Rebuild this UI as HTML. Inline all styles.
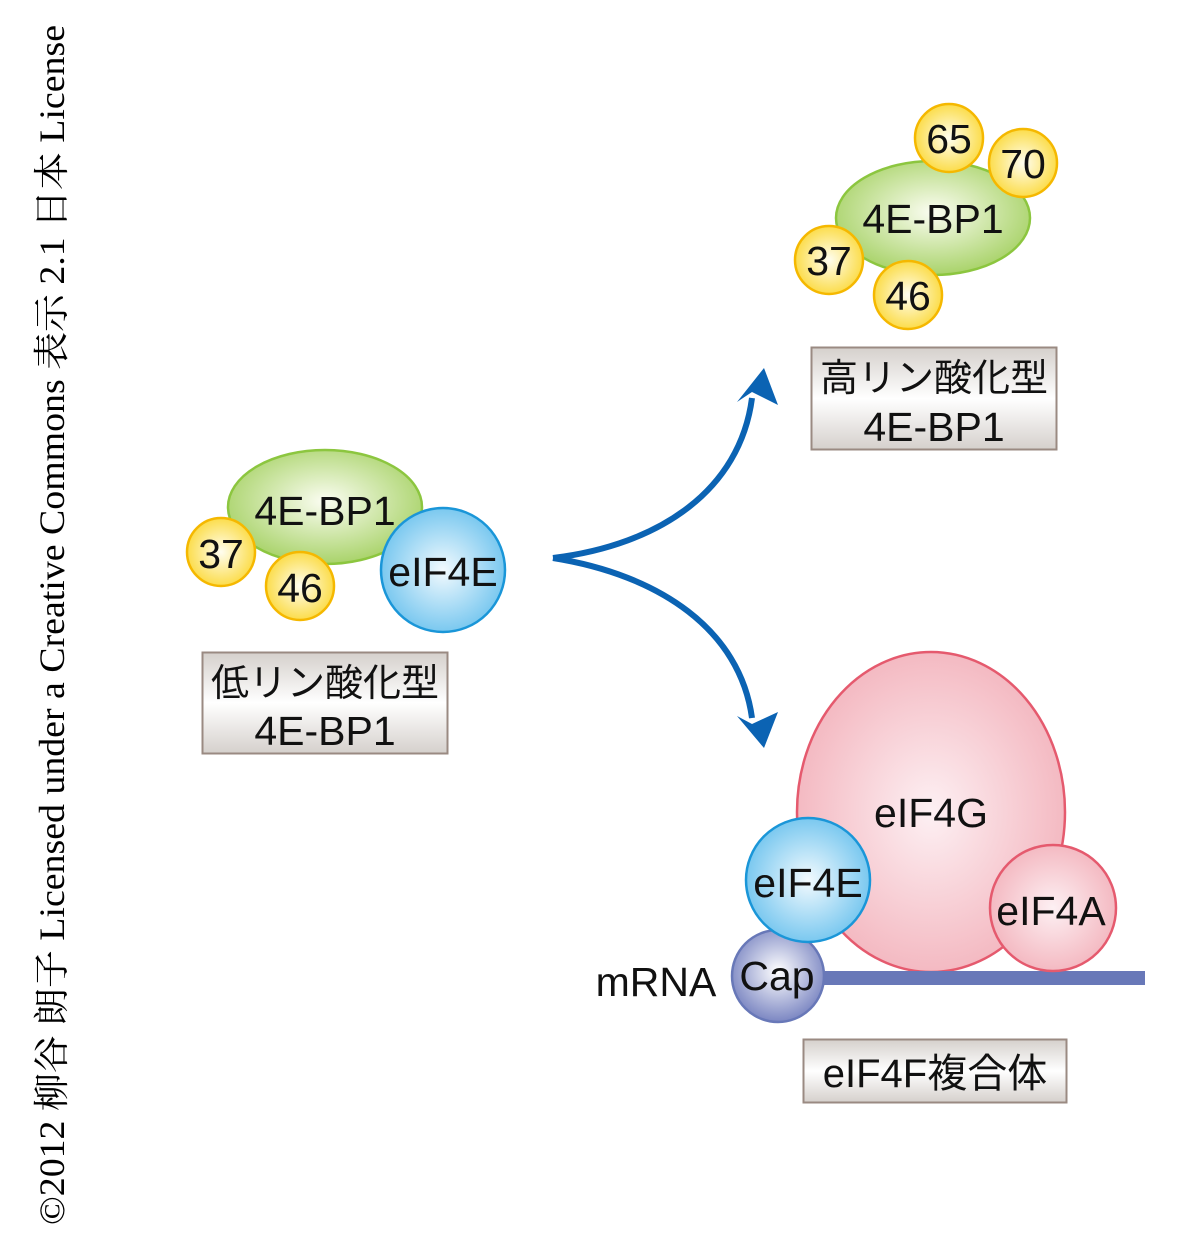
<!DOCTYPE html>
<html><head><meta charset="utf-8"><style>body{margin:0;background:#fff}svg{display:block}</style></head><body>
<svg width="1200" height="1257" viewBox="0 0 1200 1257" xmlns="http://www.w3.org/2000/svg" font-family="'Liberation Sans','Noto Sans CJK JP',sans-serif">
<defs>
<radialGradient id="g" cx="50%" cy="45%" r="55%"><stop offset="0" stop-color="#fbfdf2"/><stop offset="1" stop-color="#a9d36a"/></radialGradient>
<radialGradient id="y" cx="50%" cy="50%" r="55%"><stop offset="0" stop-color="#fffef0"/><stop offset="1" stop-color="#fbd93a"/></radialGradient>
<radialGradient id="b" cx="50%" cy="50%" r="55%"><stop offset="0" stop-color="#f2fafe"/><stop offset="1" stop-color="#6ec3ee"/></radialGradient>
<radialGradient id="p" cx="50%" cy="50%" r="55%"><stop offset="0" stop-color="#fdf0f3"/><stop offset="1" stop-color="#f3b4bd"/></radialGradient>
<radialGradient id="c" cx="50%" cy="45%" r="55%"><stop offset="0" stop-color="#ffffff"/><stop offset="1" stop-color="#7b86c2"/></radialGradient>
<linearGradient id="bx" x1="0" y1="0" x2="0" y2="1"><stop offset="0" stop-color="#d5d0cc"/><stop offset="0.5" stop-color="#ffffff"/><stop offset="1" stop-color="#d5d0cc"/></linearGradient>
</defs>
<text transform="translate(64,1225) rotate(-90)" font-family="'Liberation Serif','Noto Serif CJK SC',serif" font-size="36" textLength="1200" lengthAdjust="spacingAndGlyphs" fill="#000">©2012 柳谷 朗子 Licensed under a Creative Commons 表示 2.1 日本 License</text>

<!-- left -->
<ellipse cx="325" cy="507" rx="97" ry="57" fill="url(#g)" stroke="#8cc63f" stroke-width="2.5"/>
<circle cx="443" cy="570" r="62" fill="url(#b)" stroke="#1a96d8" stroke-width="2.5"/>
<circle cx="221" cy="552" r="34" fill="url(#y)" stroke="#f5b800" stroke-width="2.5"/>
<circle cx="300" cy="586" r="34" fill="url(#y)" stroke="#f5b800" stroke-width="2.5"/>
<g font-size="41" text-anchor="middle" fill="#111">
<text x="325" y="525">4E-BP1</text>
<text x="443" y="586">eIF4E</text>
<text x="221" y="568">37</text>
<text x="300" y="602">46</text>
</g>
<rect x="202.5" y="652.5" width="245" height="101" fill="url(#bx)" stroke="#9a8a82" stroke-width="2"/>
<g text-anchor="middle" fill="#111"><text x="325" y="696" font-size="38">低リン酸化型</text><text x="325" y="745" font-size="41">4E-BP1</text></g>

<!-- top right -->
<ellipse cx="933" cy="218" rx="97" ry="57" fill="url(#g)" stroke="#8cc63f" stroke-width="2.5"/>
<circle cx="949" cy="138" r="34" fill="url(#y)" stroke="#f5b800" stroke-width="2.5"/>
<circle cx="1023" cy="163" r="34" fill="url(#y)" stroke="#f5b800" stroke-width="2.5"/>
<circle cx="829" cy="260" r="34" fill="url(#y)" stroke="#f5b800" stroke-width="2.5"/>
<circle cx="908" cy="295" r="34" fill="url(#y)" stroke="#f5b800" stroke-width="2.5"/>
<g font-size="41" text-anchor="middle" fill="#111">
<text x="933" y="233">4E-BP1</text>
<text x="949" y="153">65</text>
<text x="1023" y="178">70</text>
<text x="829" y="275">37</text>
<text x="908" y="310">46</text>
</g>
<rect x="811.5" y="347.5" width="245" height="102" fill="url(#bx)" stroke="#9a8a82" stroke-width="2"/>
<g text-anchor="middle" fill="#111"><text x="934" y="391" font-size="38">高リン酸化型</text><text x="934" y="441" font-size="41">4E-BP1</text></g>

<!-- arrows -->
<path d="M553 558 C660 545 740 490 752 398" fill="none" stroke="#0b63b3" stroke-width="6"/>
<polygon points="764,368 778,405 752,392 737,402" fill="#0b63b3"/>
<path d="M553 558 C660 575 740 630 752 718" fill="none" stroke="#0b63b3" stroke-width="6"/>
<polygon points="764,748 778,712 752,724 737,716" fill="#0b63b3"/>

<!-- bottom -->
<ellipse cx="931" cy="812" rx="134" ry="160" fill="url(#p)" stroke="#e55a6e" stroke-width="2.5"/>
<rect x="820" y="971" width="325" height="14" fill="#6878b8"/>
<circle cx="1053" cy="908" r="63" fill="url(#p)" stroke="#e55a6e" stroke-width="2.5"/>
<circle cx="778" cy="976" r="46" fill="url(#c)" stroke="#6878b8" stroke-width="2.5"/>
<circle cx="808" cy="880" r="62" fill="url(#b)" stroke="#1a96d8" stroke-width="2.5"/>
<g font-size="41" text-anchor="middle" fill="#111">
<text x="931" y="827">eIF4G</text>
<text x="1051" y="925">eIF4A</text>
<text x="808" y="897">eIF4E</text>
<text x="777" y="990">Cap</text>
<text x="656" y="996">mRNA</text>
</g>
<rect x="803.5" y="1039.5" width="263" height="63" fill="url(#bx)" stroke="#9a8a82" stroke-width="2"/>
<text x="935" y="1087" font-size="40" text-anchor="middle" fill="#111">eIF4F複合体</text>
</svg>
</body></html>
